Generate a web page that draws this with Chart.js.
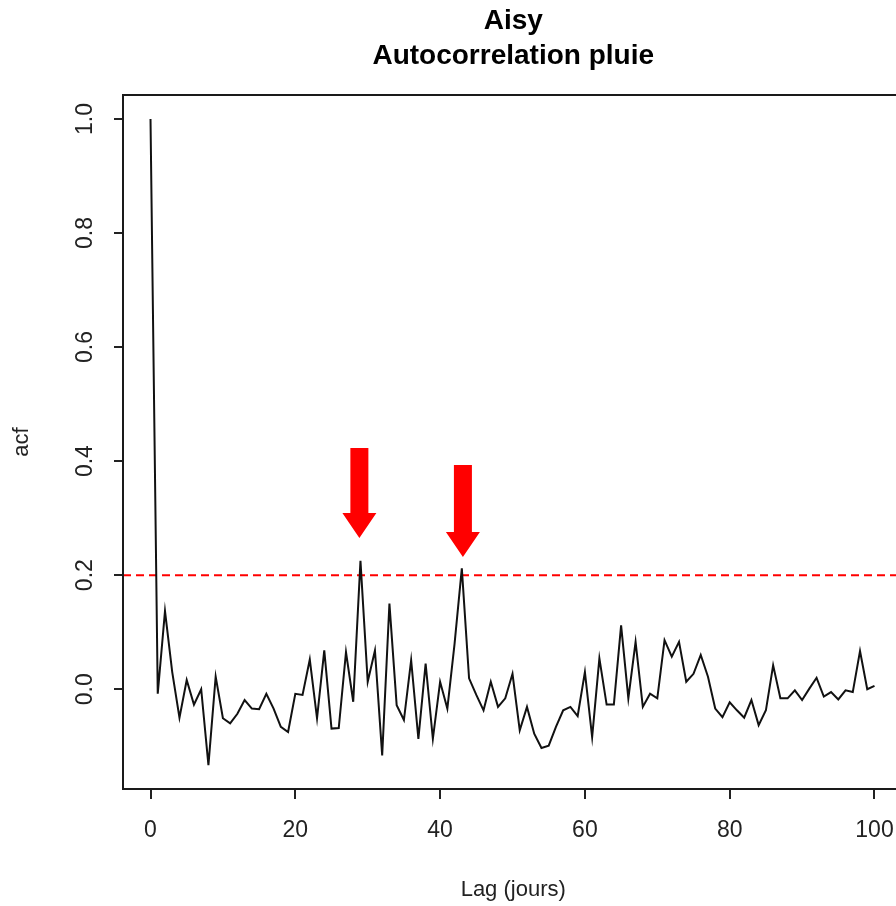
<!DOCTYPE html>
<html>
<head>
<meta charset="utf-8">
<title>Aisy - Autocorrelation pluie</title>
<script src="https://cdn.jsdelivr.net/npm/chart.js@4.4.1/dist/chart.umd.min.js"></script>
<style>
  html, body { margin: 0; padding: 0; background: #fff; overflow: hidden; }
  canvas { display: block; }
</style>
</head>
<body>
<canvas id="acf" width="912" height="906"></canvas>
<script>
// lag in days and autocorrelation of daily rainfall
const lags = Array.from({ length: 101 }, (_, i) => i);
const acfValues = [
  1.0, -0.008, 0.137, 0.03, -0.05, 0.016, -0.027, 0.0, -0.133, 0.022,
  -0.051, -0.06, -0.043, -0.019, -0.034, -0.035, -0.008, -0.034, -0.066, -0.075,
  -0.008, -0.01, 0.052, -0.051, 0.068, -0.069, -0.068, 0.065, -0.022, 0.225,
  0.013, 0.068, -0.116, 0.15, -0.028, -0.054, 0.051, -0.087, 0.045, -0.087,
  0.013, -0.034, 0.08, 0.212, 0.019, -0.01, -0.037, 0.013, -0.031, -0.016,
  0.027, -0.072, -0.031, -0.078, -0.103, -0.099, -0.066, -0.037, -0.031, -0.047,
  0.03, -0.084, 0.054, -0.027, -0.027, 0.112, -0.016, 0.083, -0.031, -0.008,
  -0.016, 0.086, 0.057, 0.083, 0.013, 0.027, 0.06, 0.022, -0.034, -0.049,
  -0.023, -0.037, -0.05, -0.019, -0.063, -0.037, 0.042, -0.016, -0.016, -0.002,
  -0.019, 0.001, 0.02, -0.013, -0.005, -0.018, -0.002, -0.005, 0.067, 0.0,
  0.006
];
const bound = 0.2;

const xTickValues = [0, 20, 40, 60, 80, 100];
const yTickValues = [0, 0.2, 0.4, 0.6, 0.8, 1.0];
const yTickLabels = ['0.0', '0.2', '0.4', '0.6', '0.8', '1.0'];

// red arrows over the two peaks (lag, tip value, tail value)
const arrowLags = [28.85, 43.15];
const arrowTips = [0.265, 0.232];
const arrowTails = [0.423, 0.393];

const xMin = -3.8, xMax = 104;
const yMin = -0.175, yMax = 1.042;
const FONT = '"Liberation Sans", Arial, sans-serif';

const frame = {
  id: 'frame',
  afterDraw(chart) {
    const { ctx, chartArea: a, scales: { x, y } } = chart;
    ctx.save();
    ctx.strokeStyle = '#1a1a1a';
    ctx.lineWidth = 2;
    ctx.strokeRect(a.left, a.top, a.right - a.left, a.bottom - a.top);

    // vertical tick labels on the y axis
    ctx.fillStyle = '#222';
    ctx.font = '23px ' + FONT;
    ctx.textAlign = 'center';
    ctx.textBaseline = 'middle';
    yTickValues.forEach((v, i) => {
      ctx.save();
      ctx.translate(86, y.getPixelForValue(v));
      ctx.rotate(-Math.PI / 2);
      ctx.fillText(yTickLabels[i], 0, 0);
      ctx.restore();
    });

    // arrows
    ctx.fillStyle = '#f00';
    const headH = 25, headW = 17, shaftW = 9;
    arrowLags.forEach((lag, i) => {
      const cx = x.getPixelForValue(lag);
      const tip = y.getPixelForValue(arrowTips[i]);
      const tail = y.getPixelForValue(arrowTails[i]);
      ctx.beginPath();
      ctx.moveTo(cx - shaftW, tail);
      ctx.lineTo(cx + shaftW, tail);
      ctx.lineTo(cx + shaftW, tip - headH);
      ctx.lineTo(cx + headW, tip - headH);
      ctx.lineTo(cx, tip);
      ctx.lineTo(cx - headW, tip - headH);
      ctx.lineTo(cx - shaftW, tip - headH);
      ctx.closePath();
      ctx.fill();
    });
    ctx.restore();
  }
};

new Chart(document.getElementById('acf'), {
  type: 'line',
  data: {
    datasets: [
      {
        data: lags.map((l, i) => ({ x: l, y: acfValues[i] })),
        borderColor: '#111',
        borderWidth: 2,
        pointRadius: 0,
        tension: 0
      },
      {
        data: [{ x: xMin, y: bound }, { x: xMax, y: bound }],
        borderColor: '#f00',
        borderWidth: 2,
        borderDash: [8, 5],
        pointRadius: 0
      }
    ]
  },
  options: {
    responsive: false,
    animation: false,
    devicePixelRatio: 1,
    layout: { padding: { right: 8 } },
    plugins: {
      legend: { display: false },
      tooltip: { enabled: false },
      title: {
        display: true,
        fullSize: false,
        text: ['Aisy', 'Autocorrelation pluie'],
        color: '#000',
        font: { family: FONT, size: 28, weight: 'bold', lineHeight: '35px' },
        padding: { top: 4, bottom: 21 }
      }
    },
    scales: {
      x: {
        type: 'linear',
        min: xMin,
        max: xMax,
        afterBuildTicks: s => { s.ticks = xTickValues.map(v => ({ value: v })); },
        afterFit: s => { s.height = 117; },
        border: { display: false },
        grid: { drawOnChartArea: false, drawTicks: true, tickLength: 10, color: '#222', lineWidth: 2 },
        ticks: {
          font: { family: FONT, size: 23 },
          color: '#222',
          padding: 18,
          maxRotation: 0,
          autoSkip: false
        },
        title: {
          display: true,
          text: 'Lag (jours)',
          color: '#222',
          font: { family: FONT, size: 22 },
          padding: { top: 0, bottom: 3 }
        }
      },
      y: {
        min: yMin,
        max: yMax,
        afterBuildTicks: s => { s.ticks = yTickValues.map(v => ({ value: v })); },
        afterFit: s => { s.width = 123; },
        border: { display: false },
        grid: { drawOnChartArea: false, drawTicks: true, tickLength: 9, color: '#222', lineWidth: 2 },
        ticks: { display: false },
        title: {
          display: true,
          text: 'acf',
          color: '#222',
          font: { family: FONT, size: 22 },
          padding: { top: 9, bottom: 0 }
        }
      }
    }
  },
  plugins: [frame]
});
</script>
</body>
</html>
